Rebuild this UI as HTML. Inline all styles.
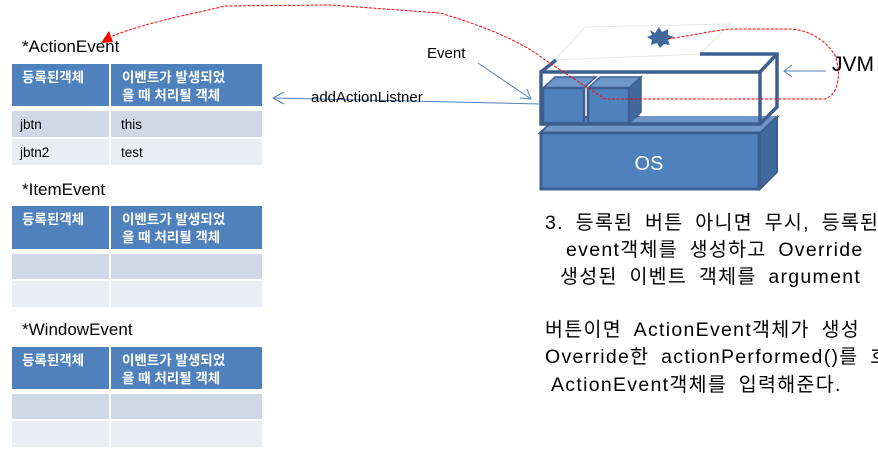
<!DOCTYPE html>
<html><head><meta charset="utf-8">
<style>
html,body{margin:0;padding:0;background:#fff;overflow:hidden;}
svg{display:block;}
text{font-family:"Liberation Sans","Noto Sans CJK KR",sans-serif;}
</style></head>
<body>
<svg width="878" height="452" viewBox="0 0 878 452" xmlns="http://www.w3.org/2000/svg">
<text x="620" y="-3" font-size="19" fill="#000">4. 이벤트 객체에 등록된 리스너</text>

<text x="22" y="52" font-size="17" fill="#000">*ActionEvent</text>
<text x="22" y="195" font-size="17" fill="#000">*ItemEvent</text>
<text x="22" y="335" font-size="17" fill="#000">*WindowEvent</text>

<g font-size="13.5">
<rect x="12" y="64" width="97" height="42" fill="#4f81bd"/>
<rect x="111" y="64" width="151" height="42" fill="#4f81bd"/>
<rect x="12" y="111" width="97" height="26" fill="#d0d8e8"/>
<rect x="111" y="111" width="151" height="26" fill="#d0d8e8"/>
<rect x="12" y="139" width="97" height="26" fill="#e9edf4"/>
<rect x="111" y="139" width="151" height="26" fill="#e9edf4"/>
<text x="22" y="82" fill="#fff" font-weight="bold">등록된객체</text>
<text x="122" y="82" fill="#fff" font-weight="bold">이벤트가 발생되었</text>
<text x="122" y="100" fill="#fff" font-weight="bold">을 때 처리될 객체</text>
<text x="20" y="129" fill="#000">jbtn</text>
<text x="121" y="129" fill="#000">this</text>
<text x="20" y="157" fill="#000">jbtn2</text>
<text x="121" y="157" fill="#000">test</text>

<rect x="12" y="206" width="97" height="43" fill="#4f81bd"/>
<rect x="111" y="206" width="151" height="43" fill="#4f81bd"/>
<rect x="12" y="254" width="97" height="25" fill="#d0d8e8"/>
<rect x="111" y="254" width="151" height="25" fill="#d0d8e8"/>
<rect x="12" y="281" width="97" height="26" fill="#e9edf4"/>
<rect x="111" y="281" width="151" height="26" fill="#e9edf4"/>
<text x="22" y="224" fill="#fff" font-weight="bold">등록된객체</text>
<text x="122" y="224" fill="#fff" font-weight="bold">이벤트가 발생되었</text>
<text x="122" y="242" fill="#fff" font-weight="bold">을 때 처리될 객체</text>

<rect x="12" y="347" width="97" height="42" fill="#4f81bd"/>
<rect x="111" y="347" width="151" height="42" fill="#4f81bd"/>
<rect x="12" y="394" width="97" height="25" fill="#d0d8e8"/>
<rect x="111" y="394" width="151" height="25" fill="#d0d8e8"/>
<rect x="12" y="421" width="97" height="26" fill="#e9edf4"/>
<rect x="111" y="421" width="151" height="26" fill="#e9edf4"/>
<text x="22" y="365" fill="#fff" font-weight="bold">등록된객체</text>
<text x="122" y="365" fill="#fff" font-weight="bold">이벤트가 발생되었</text>
<text x="122" y="383" fill="#fff" font-weight="bold">을 때 처리될 객체</text>
</g>

<polygon points="555,60 585,27 730,24 700,54" fill="#fff" stroke="#e8e8e8" stroke-width="1"/>

<polygon points="540,133 557,117 777,117 760,133" fill="#6f96c9" stroke="#3d5f8f" stroke-width="2"/>
<polygon points="760,133 777,117 777,172 760,189" fill="#416a9c" stroke="#3d5f8f" stroke-width="2"/>
<rect x="541" y="133" width="218" height="56" fill="#4f81bd" stroke="#3d5f8f" stroke-width="3"/>
<text x="649" y="170" font-size="20" fill="#fff" text-anchor="middle">OS</text>

<polygon points="628,124 640,116 777,116 762,124" fill="#6f96c9"/>
<g fill="none" stroke="#3d5f8f" stroke-width="3.5">
<rect x="541" y="72" width="219" height="52"/>
<polyline points="700,54 777,54 777,107 760,124"/>
<line x1="760" y1="72" x2="777" y2="54"/>
<line x1="541" y1="72" x2="556" y2="60"/>
</g>
<polygon points="543,88 555,77 596,77 584,88" fill="#6f96c9" stroke="#3d5f8f" stroke-width="1.5"/>
<rect x="543" y="88" width="41" height="35" fill="#4f81bd" stroke="#3d5f8f" stroke-width="2.5"/>
<polygon points="588,88 600,77 641,77 629,88" fill="#6f96c9" stroke="#3d5f8f" stroke-width="1.5"/>
<polygon points="629,88 641,77 641,112 629,123" fill="#416a9c" stroke="#3d5f8f" stroke-width="1.5"/>
<rect x="588" y="88" width="41" height="35" fill="#4f81bd" stroke="#3d5f8f" stroke-width="2.5"/>

<polygon points="650,30 655,33 659,27 662,32 668,29 668,35 674,37 668,40 670,45 664,44 660,48 657,43 651,45 652,40 647,37 652,35" fill="#416a9c"/>

<text x="427" y="58" font-size="15" fill="#000">Event</text>
<line x1="478" y1="63" x2="531" y2="99" stroke="#4f81bd" stroke-width="1"/>
<polyline points="520,98 531,99 527,89" fill="none" stroke="#4f81bd" stroke-width="1"/>

<line x1="540" y1="104" x2="273" y2="98" stroke="#4f81bd" stroke-width="1"/>
<polyline points="284,92 273,98 284,104" fill="none" stroke="#4f81bd" stroke-width="1"/>
<text x="311" y="102" font-size="15" fill="#000">addActionListner</text>

<text x="832" y="71" font-size="21" fill="#000">JVM</text>
<line x1="826" y1="71" x2="784" y2="71" stroke="#4f81bd" stroke-width="1"/>
<polyline points="792,65 784,71 792,77" fill="none" stroke="#4f81bd" stroke-width="1"/>

<path d="M108,38 C130,28 170,18 200,12 L225,6 L330,5 L440,13 C480,25 520,40 545,60 L605,99 L825,99 C838,95 842,75 835,55 C825,40 810,30 790,29 L730,29 C710,31 690,36 667,39" fill="none" stroke="#ff0000" stroke-width="1" stroke-dasharray="3,1.5"/>
<polygon points="101,43 109,31 113,42" fill="#ff0000"/>

<g font-size="19.5" fill="#000" letter-spacing="1.3" word-spacing="5">
<text x="545" y="229">3. 등록된 버튼 아니면 무시, 등록된</text>
<text x="566" y="256">event객체를 생성하고 Override</text>
<text x="560" y="283">생성된 이벤트 객체를 argument</text>
<text x="545" y="336">버튼이면 ActionEvent객체가 생성</text>
<text x="545" y="363">Override한 actionPerformed()를 호</text>
<text x="551" y="391">ActionEvent객체를 입력해준다.</text>
</g>
</svg>
</body></html>
